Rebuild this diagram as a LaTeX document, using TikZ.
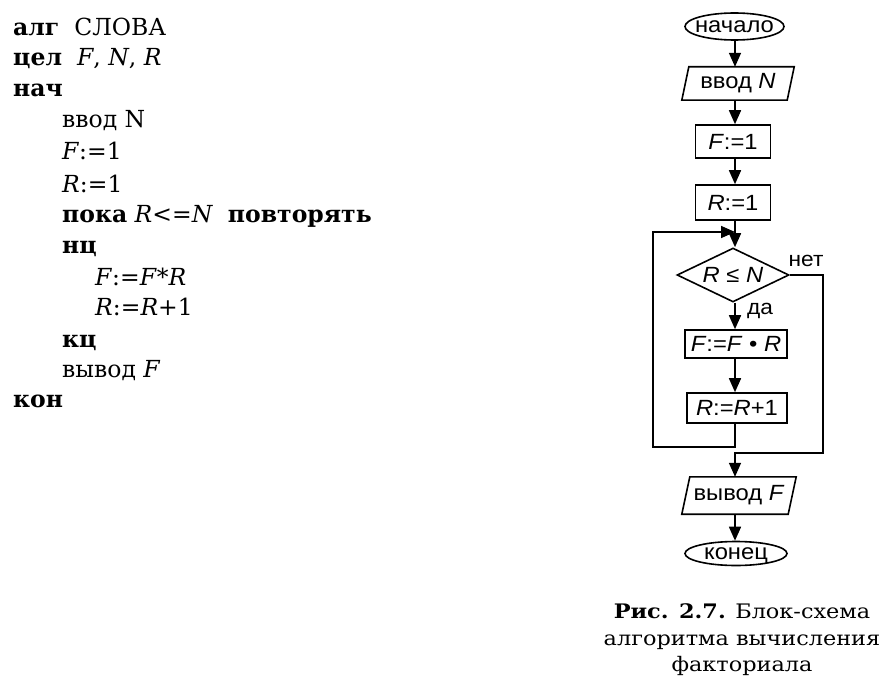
\documentclass[tikz,border=0pt]{standalone}
\usepackage{fontspec}
\setmainfont{DejaVu Serif}
\newfontfamily\capfont[FakeStretch=1.12]{DejaVu Serif}
\newfontfamily\fcfont[FakeStretch=1.08]{Liberation Sans}
\usetikzlibrary{shapes.geometric,arrows.meta}
\newcommand{\termtext}[1]{\makebox[0pt]{\smash{#1}\vphantom{x}}}
\begin{document}
\begin{tikzpicture}[x=1pt,y=-1pt,
  code/.style={anchor=base west, inner sep=0pt, font=\fontsize{23.5}{26}\selectfont},
  capt/.style={anchor=base, inner sep=0pt, font=\capfont\fontsize{20}{24}\selectfont},
  fc/.style={font=\fcfont\fontsize{22}{24}\selectfont, inner sep=0pt},
  conn/.style={line width=1.6pt},
  term/.style={fc, draw, ellipse, conn},
  procbox/.style={fc, draw, rectangle, conn},
  iobox/.style={fc},
  lbl/.style={font=\fcfont\fontsize{21}{24}\selectfont, inner sep=0pt},
  arr/.style={conn, -{Triangle[length=14pt,width=12pt]}}
]
\useasboundingbox (0,0) rectangle (894,682);
\fill[white] (0,0) rectangle (894,682);

% ---- program text ----
\node[code] (l1) at (13,36) {\textbf{алг}\ \ СЛОВА};
\node[code] (l2) at (13,66) {\textbf{цел}\ \ \textit{F}, \textit{N}, \textit{R}};
\node[code] (l3) at (13,97) {\textbf{нач}};
\node[code] (l4) at (62,128) {ввод N};
\node[code] (l5) at (62,160) {\textit{F}:=1};
\node[code] (l6) at (62,192) {\textit{R}:=1};
\node[code] (l7) at (62,222) {\textbf{пока} \textit{R}<=\textit{N}\ \ \textbf{повторять}};
\node[code] (l8) at (62,253) {\textbf{нц}};
\node[code] (l9) at (95,285) {\textit{F}:=\textit{F}*\textit{R}};
\node[code] (l10) at (95,315) {\textit{R}:=\textit{R}+1};
\node[code] (l11) at (62,347) {\textbf{кц}};
\node[code] (l12) at (62,377) {вывод \textit{F}};
\node[code] (l13) at (13,407) {\textbf{кон}};

% ---- flowchart ----
\node[term, minimum width=99pt, minimum height=27pt] (start) at (734.5,26.5) {\termtext{начало}};
\node[iobox, minimum width=105pt, minimum height=33pt] (in) at (738,83.5) {ввод \textit{N}};
\draw[conn] ([xshift=-3.5pt]in.south west) -- ([xshift=3.5pt]in.north west) -- ([xshift=3.5pt]in.north east) -- ([xshift=-3.5pt]in.south east) -- cycle;
\node[procbox, minimum width=75pt, minimum height=33pt] (f1) at (733,141.5) {\textit{F}:=1};
\node[procbox, minimum width=75pt, minimum height=35pt] (r1) at (733,202.5) {\textit{R}:=1};
\node[fc, draw, diamond, conn, aspect=2, minimum width=112pt, minimum height=54pt] (cond) at (733,275) {\textit{R} ≤ \textit{N}};
\node[procbox, minimum width=102pt, minimum height=28pt] (fr) at (736,344) {\textit{F}:=\textit{F} • \textit{R}};
\node[procbox, minimum width=100pt, minimum height=30pt] (r2) at (737,408) {\textit{R}:=\textit{R}+1};
\node[iobox, minimum width=106pt, minimum height=37pt] (out) at (739,495.5) {вывод \textit{F}};
\draw[conn] ([xshift=-4pt]out.south west) -- ([xshift=4pt]out.north west) -- ([xshift=4pt]out.north east) -- ([xshift=-4pt]out.south east) -- cycle;
\node[term, minimum width=102pt, minimum height=24pt] (end) at (736,553.5) {\termtext{конец}};

\coordinate (merge) at (735,232);
\coordinate (lb) at (653,447);
\coordinate (rb) at (823,453);

\draw[arr] (start.south -| merge) -- (in.north -| merge);
\draw[arr] (in.south -| merge) -- (f1.north -| merge);
\draw[arr] (f1.south -| merge) -- (r1.north -| merge);
\draw[arr] (r1.south -| merge) -- (cond.north -| merge);
\draw[arr] (cond.south -| merge) -- (fr.north -| merge);
\draw[arr] (fr.south -| merge) -- (r2.north -| merge);
\draw[arr] (r2.south -| merge) |- (lb) |- (merge);
\draw[arr] (cond.east) -| (rb) -| (out.north -| merge);
\draw[arr] (out.south -| merge) -- (end.north -| merge);

\node[lbl] (no) at (806,261) {нет};
\node[lbl] (yes) at (760,311) {да};

% ---- caption ----
\node[capt] (c1) at (742,618) {\textbf{Рис. 2.7.} Блок-схема};
\node[capt] (c2) at (742,645) {алгоритма вычисления};
\node[capt] (c3) at (742,671) {факториала};
\end{tikzpicture}
\end{document}
